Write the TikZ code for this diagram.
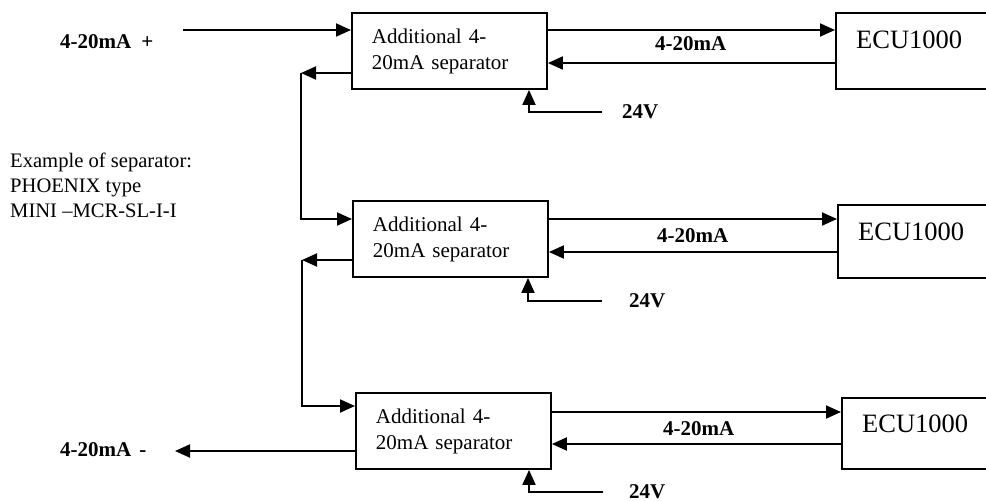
\documentclass[tikz,border=0pt]{standalone}
\usepackage{fontspec}
\setmainfont{Liberation Serif}
\usetikzlibrary{arrows.meta}
\tikzset{
  wire/.style={line width=1.9pt},
  arr/.style={wire,-{Triangle[length=15pt,width=13pt]}},
  sepbox/.style={draw,line width=1.9pt,rectangle,anchor=north west,minimum width=195pt,minimum height=76pt,text width=155pt,inner xsep=20pt,align=left,font=\fontsize{21}{26}\selectfont},
  ecubox/.style={draw,line width=1.9pt,rectangle,anchor=north west,minimum width=170pt,inner sep=0pt},
  ecutext/.style={anchor=base west,inner sep=0pt,font=\fontsize{26.5}{30}\selectfont},
  blabel/.style={anchor=base west,inner sep=0pt,font=\fontsize{21}{25}\selectfont\bfseries},
  plain/.style={anchor=base west,inner sep=0pt,font=\fontsize{20.6}{25}\selectfont},
}
\begin{document}
\begin{tikzpicture}[x=1pt,y=-1pt]
\useasboundingbox (0,0) rectangle (986,501);
\clip (0,0) rectangle (986,501);
\fill[white] (0,0) rectangle (986,501);

% separator boxes
\node[sepbox] (s1) at (351,12) {Additional 4-\\20mA separator};
\node[sepbox] (s2) at (352,200) {Additional 4-\\20mA separator};
\node[sepbox] (s3) at (355,392) {Additional 4-\\20mA separator};

% ECU boxes
\node[ecubox,minimum height=76pt] (e1) at (835,12) {};
\node[ecubox,minimum height=73pt] (e2) at (837,204) {};
\node[ecubox,minimum height=71pt] (e3) at (841,397) {};
\node[ecutext] (e1t) at (856,48) {ECU1000};
\node[ecutext] (e2t) at (858,240) {ECU1000};
\node[ecutext] (e3t) at (862,432) {ECU1000};

% labels
\node[blabel] (lin) at (60,48) {4-20mA\hspace{10pt}+};
\node[blabel] (lout) at (60,456) {4-20mA\hspace{8pt}-};
\node[blabel] (m1) at (655,50) {4-20mA};
\node[blabel] (m2) at (657,242) {4-20mA};
\node[blabel] (m3) at (663,435) {4-20mA};
\node[blabel] (v1t) at (622,118) {24V};
\node[blabel] (v2t) at (629,307) {24V};
\node[blabel] (v3t) at (629,498) {24V};
\node[plain] (ex1) at (10,167) {Example of separator:};
\node[plain] (ex2) at (10,192) {PHOENIX type};
\node[plain] (ex3) at (10,217) {MINI –MCR-SL-I-I};

% free ends
\coordinate (in1) at (183,30);
\coordinate (out3) at (175,451);
\coordinate (c1a) at (301,73);
\coordinate (c1b) at (301,219);
\coordinate (c2a) at (302,260);
\coordinate (c2b) at (302,406);
\coordinate (v1) at (602,112);
\coordinate (v2) at (602,301);
\coordinate (v3) at (603,492);

% input / output
\draw[arr] (in1) -- (in1 -| s1.west);
\draw[arr] (s3.west |- out3) -- (out3);

% chain between separators
\draw[arr] (s1.west |- c1a) -- (c1a);
\draw[arr] (c1a) -- (c1b) -- (s2.west |- c1b);
\draw[arr] (s2.west |- c2a) -- (c2a);
\draw[arr] (c2a) -- (c2b) -- (s3.west |- c2b);

% separator <-> ECU
\draw[arr] (s1.east |- 0,30) -- (e1.west |- 0,30);
\draw[arr] (e1.west |- 0,63) -- (s1.east |- 0,63);
\draw[arr] (s2.east |- 0,219) -- (e2.west |- 0,219);
\draw[arr] (e2.west |- 0,252) -- (s2.east |- 0,252);
\draw[arr] (s3.east |- 0,412) -- (e3.west |- 0,412);
\draw[arr] (e3.west |- 0,444) -- (s3.east |- 0,444);

% 24V supplies
\draw[arr] (v1) -| (s1.south -| 529,0);
\draw[arr] (v2) -| (s2.south -| 528,0);
\draw[arr] (v3) -| (s3.south -| 529,0);
\end{tikzpicture}
\end{document}
